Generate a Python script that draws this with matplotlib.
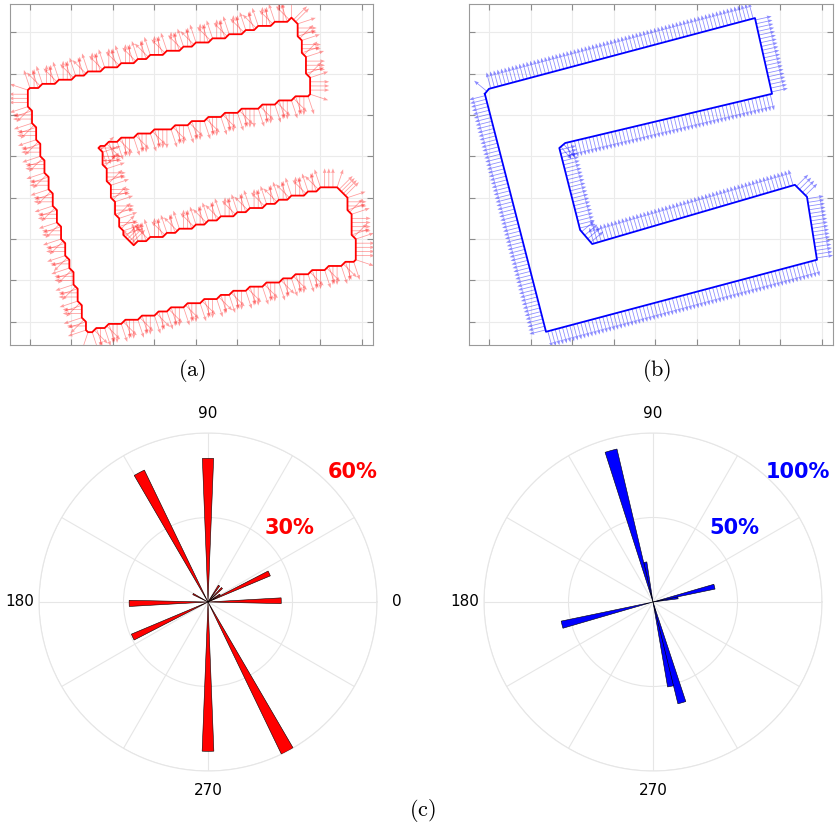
import numpy as np
import matplotlib
matplotlib.use("Agg")
import matplotlib.pyplot as plt
from matplotlib.path import Path

plt.rcParams['mathtext.fontset'] = 'cm'

# outline of the part (data units), clockwise from the top-left corner
shape_x = [-0.10, 0.00, 6.39, 6.80, 1.83, 1.69, 2.19, 2.48, 7.35, 7.64, 7.88, 1.37]
shape_y = [5.51, 5.63, 7.34, 5.51, 4.32, 4.20, 2.22, 1.88, 3.31, 3.02, 1.50, -0.24]

# rose histograms: direction of the normals (deg) and share (%)
red_angles = [1, 25, 32, 45, 56, 90, 118, 152, 181, 205, 270, 298]
red_share = [26, 24, 5, 7, 7, 51, 52, 6, 28, 29.5, 53, 60]
blue_angles = [9.5, 14, 101, 105.5, 194, 282, 286]
blue_share = [15, 37.5, 24, 93, 55.5, 51, 62]

red_rings = [30, 60]
blue_rings = [50, 100]

W, H = 838, 834
fig = plt.figure(figsize=(W / 100, H / 100), dpi=100)


def setup_panel(ax):
    ax.set_xlim(-0.48, 8.265)
    ax.set_ylim(-0.56, 7.68)
    ax.set_xticks(range(9))
    ax.set_yticks(range(8))
    ax.set_xticklabels([])
    ax.set_yticklabels([])
    ax.tick_params(direction='in', top=True, right=True, length=4,
                   color='#8c8c8c', width=0.8)
    ax.grid(color='#ebebeb', linewidth=0.8)
    ax.set_axisbelow(True)
    for s in ax.spines.values():
        s.set_color('#9a9a9a')


def outward(vx, vy):
    # sign that turns the tangent into the outward normal
    area = 0.5 * np.sum(vx * np.roll(vy, -1) - np.roll(vx, -1) * vy)
    return (1 if area < 0 else -1)


poly = np.column_stack([shape_x, shape_y])

# (a) pixelised contour with its normals
ax_a = fig.add_axes([10 / W, 489 / H, 363 / W, 341 / H])
setup_panel(ax_a)
h = 0.1
gx = np.arange(-0.6, 8.4, h)
gy = np.arange(-0.8, 8.0, h)
X, Y = np.meshgrid(gx, gy)
inside = Path(poly).contains_points(np.column_stack([X.ravel(), Y.ravel()])).reshape(X.shape)
cs = ax_a.contour(X, Y, inside.astype(float), levels=[0.5], colors='red', linewidths=1.3, zorder=3)
chains = cs.get_paths()[0].to_polygons(closed_only=False)
seg = max(chains, key=len)
if np.allclose(seg[0], seg[-1]):
    seg = seg[:-1]
vx, vy = seg[:, 0], seg[:, 1]
sgn = outward(vx, vy)
tx = np.roll(vx, -1) - np.roll(vx, 1)
ty = np.roll(vy, -1) - np.roll(vy, 1)
nl = np.hypot(tx, ty)
nx, ny = -sgn * ty / nl, sgn * tx / nl
L = 0.46
ax_a.quiver(vx, vy, L * nx, L * ny, angles='xy', scale_units='xy', scale=1,
            color='red', alpha=0.38, width=0.0022, headwidth=4.5, headlength=6,
            headaxislength=5.5, zorder=2)

# (b) smooth contour with its normals
ax_b = fig.add_axes([469 / W, 489 / H, 364 / W, 341 / H])
setup_panel(ax_b)
px = np.array(shape_x + shape_x[:1])
py = np.array(shape_y + shape_y[:1])
ax_b.plot(px, py, color='blue', linewidth=1.3, zorder=3)
sgn = outward(np.array(shape_x), np.array(shape_y))
qx, qy, qu, qv = [], [], [], []
for k in range(len(shape_x)):
    dx, dy = px[k + 1] - px[k], py[k + 1] - py[k]
    ln = np.hypot(dx, dy)
    n = max(1, int(ln / 0.09))
    t = (np.arange(n) + 0.5) / n
    qx.extend(px[k] + t * dx)
    qy.extend(py[k] + t * dy)
    qu.extend([-sgn * dy / ln] * n)
    qv.extend([sgn * dx / ln] * n)
L = 0.4
ax_b.quiver(qx, qy, L * np.array(qu), L * np.array(qv), angles='xy', scale_units='xy', scale=1,
            color='blue', alpha=0.45, width=0.0022, headwidth=4.5, headlength=6,
            headaxislength=5.5, zorder=2)

fig.text(192 / W, 1 - 370 / H, r'$\mathrm{(a)}$', ha='center', va='center', fontsize=16)
fig.text(657 / W, 1 - 370 / H, r'$\mathrm{(b)}$', ha='center', va='center', fontsize=16)
fig.text(422 / W, 1 - 811 / H, r'$\mathrm{(c)}$', ha='center', va='center', fontsize=16)


def rose(ax, angles, share, color, rings, shown):
    ax.bar(np.deg2rad(angles), share, width=np.deg2rad(4.5), color=color,
           edgecolor='black', linewidth=0.4, zorder=3)
    ax.set_ylim(0, rings[-1])
    ax.set_rgrids(rings, labels=[''] * len(rings))
    ax.set_thetagrids(range(0, 360, 30),
                      labels=[str(a) if a in shown else '' for a in range(0, 360, 30)],
                      fontsize=11)
    ax.grid(color='#e6e6e6', linewidth=0.8)
    ax.spines['polar'].set_color('#e6e6e6')
    for r in rings:
        ax.text(np.deg2rad(42), r + 0.15 * rings[-1], f'{r}%', color=color,
                fontsize=15, fontweight='bold', ha='center', va='center')


ax_c1 = fig.add_axes([39 / W, 63 / H, 338 / W, 338 / H], projection='polar')
rose(ax_c1, red_angles, red_share, 'red', red_rings, (0, 90, 180, 270))
ax_c2 = fig.add_axes([484 / W, 63 / H, 338 / W, 338 / H], projection='polar')
rose(ax_c2, blue_angles, blue_share, 'blue', blue_rings, (90, 180, 270))

fig.savefig('out.png', dpi=100)
